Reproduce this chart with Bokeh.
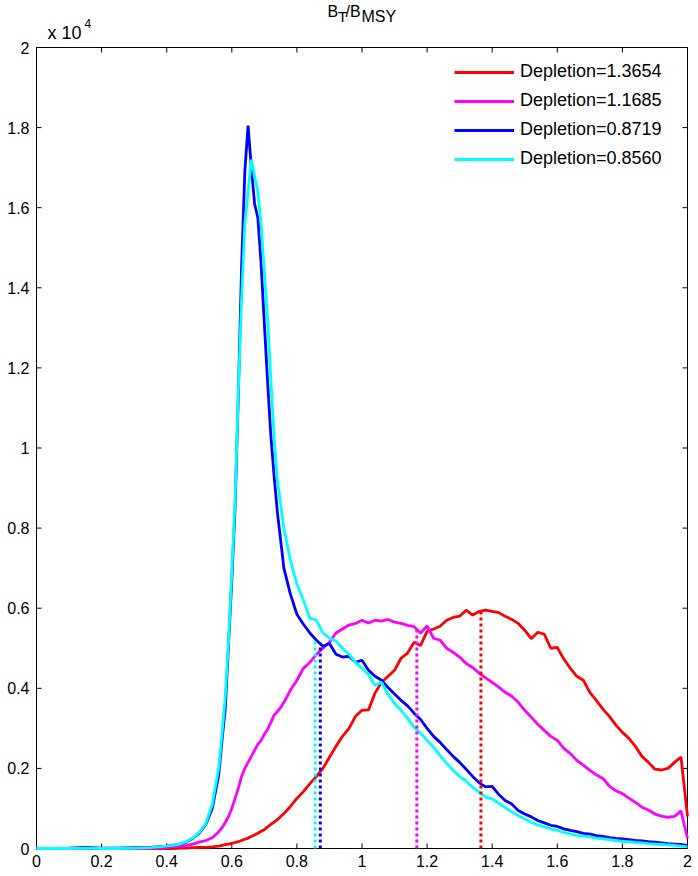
from bokeh.plotting import figure
from bokeh.models import Range1d, FixedTicker, Legend, LegendItem, ColumnDataSource
from bokeh.core.properties import value
from bokeh.embed import file_html
from bokeh.resources import INLINE
import math

# ---------------- data ----------------
x_grid = [0.00, 0.05, 0.10, 0.15, 0.20, 0.25, 0.30, 0.35, 0.40,
          0.42, 0.44, 0.46, 0.48, 0.50, 0.52, 0.54, 0.56,
          0.57, 0.58, 0.59, 0.60, 0.61, 0.62, 0.63, 0.64, 0.65, 0.66,
          0.67, 0.68, 0.69, 0.70, 0.71, 0.72, 0.73, 0.74, 0.75, 0.76,
          0.78, 0.80, 0.82, 0.84, 0.86, 0.88, 0.90, 0.92, 0.94, 0.96,
          0.98, 1.00, 1.02, 1.04, 1.06, 1.08, 1.10, 1.12, 1.14, 1.16,
          1.18, 1.20, 1.22, 1.24, 1.26, 1.28, 1.30, 1.32, 1.34, 1.36,
          1.38, 1.40, 1.42, 1.44, 1.46, 1.48, 1.50, 1.52, 1.54, 1.56,
          1.58, 1.60, 1.62, 1.64, 1.66, 1.68, 1.70, 1.72, 1.74, 1.76,
          1.78, 1.80, 1.82, 1.84, 1.86, 1.88, 1.90, 1.92, 1.94, 1.96,
          1.98, 2.00]

red_1_3654 = [0, 0, 0, 0, 0, 0, 0, 0, 0,
              0, 10, 10, 20, 30, 30, 40, 60,
              80, 100, 110, 130, 150, 170, 200, 230, 260, 300,
              340, 380, 430, 470, 540, 600, 660, 720, 800, 870,
              1050, 1250, 1420, 1620, 1800, 2000, 2280, 2550, 2800, 3000,
              3300, 3450, 3460, 3880, 4150, 4300, 4450, 4750, 4880, 5150,
              5070, 5420, 5480, 5550, 5700, 5770, 5800, 5950, 5830, 5920,
              5950, 5920, 5890, 5800, 5720, 5620, 5450, 5240, 5400, 5350,
              5000, 5020, 4730, 4500, 4300, 4200, 3900, 3700, 3480, 3300,
              3080, 2900, 2750, 2550, 2300, 2150, 1980, 1960, 2000, 2150,
              2280, 800]

magenta_1_1685 = [0, 0, 0, 0, 0, 0, 0, 10, 30,
                  40, 60, 80, 110, 160, 200, 270, 420,
                  520, 650, 800, 1000, 1250, 1500, 1800, 2000, 2150, 2300,
                  2450, 2600, 2700, 2850, 2980, 3150, 3330, 3420, 3520, 3650,
                  3950, 4200, 4500, 4650, 4850, 5000, 5150, 5380, 5480, 5580,
                  5620, 5700, 5630, 5700, 5680, 5720, 5650, 5620, 5570, 5540,
                  5380, 5560, 5250, 5200, 5000, 4900, 4780, 4620, 4520, 4380,
                  4260, 4150, 4030, 3900, 3800, 3650, 3450, 3280, 3100, 2950,
                  2800, 2700, 2500, 2370, 2200, 2080, 1950, 1840, 1750, 1560,
                  1440, 1370, 1260, 1150, 1030, 960, 860, 810, 780, 800,
                  940, 250]

blue_0_8719 = [0, 0, 10, 30, 10, 10, 20, 30, 60,
               80, 110, 160, 250, 380, 600, 1000, 1850,
               2700, 3500, 5100, 6700, 8500, 11300, 14500, 16900, 18050, 17000,
               16100, 15750, 14600, 13100, 11650, 10300, 9300, 8400, 7700, 7000,
               6350, 5850, 5600, 5380, 5200, 5050, 5120, 4850, 4780, 4800,
               4650, 4700, 4450, 4300, 4200, 4020, 3860, 3700, 3560, 3380,
               3220, 3000, 2800, 2650, 2470, 2300, 2150, 1980, 1800, 1640,
               1540, 1550, 1350, 1200, 1110, 950, 860, 790, 700, 640,
               580, 550, 490, 450, 420, 380, 360, 320, 300, 270,
               250, 240, 220, 200, 190, 170, 160, 140, 120, 110,
               100, 70]

cyan_0_8560 = [0, 0, 0, 10, 0, 0, 10, 20, 60,
               80, 110, 170, 260, 400, 620, 1100, 2030,
               2860, 3800, 5200, 6900, 8690, 11400, 13700, 15600, 16400, 17200,
               16800, 16400, 15600, 14400, 13200, 11700, 10250, 9200, 8600, 8000,
               7200, 6600, 6200, 5750, 5700, 5380, 5250, 5180, 5000, 4850,
               4650, 4500, 4350, 4070, 4150, 3850, 3620, 3450, 3250, 3030,
               2880, 2700, 2530, 2320, 2130, 1950, 1800, 1680, 1530, 1400,
               1280, 1240, 1130, 1020, 920, 820, 740, 650, 590, 540,
               490, 450, 400, 360, 330, 310, 290, 260, 240, 220,
               200, 180, 170, 150, 140, 120, 110, 100, 90, 80,
               60, 40]

depletion = [1.3654, 1.1685, 0.8719, 0.8560]
depletion_marker_top = [5935, 5520, 5050, 5200]
series_labels = ["Depletion=1.3654", "Depletion=1.1685", "Depletion=0.8719", "Depletion=0.8560"]
series_colors = ["#FF0000", "#FF00FF", "#0000FF", "#00FFFF"]

x_ticks = [0, 0.2, 0.4, 0.6, 0.8, 1.0, 1.2, 1.4, 1.6, 1.8, 2.0]
x_tick_labels = ["0", "0.2", "0.4", "0.6", "0.8", "1", "1.2", "1.4", "1.6", "1.8", "2"]
y_ticks = [0, 2000, 4000, 6000, 8000, 10000, 12000, 14000, 16000, 18000, 20000]
y_tick_labels = ["0", "0.2", "0.4", "0.6", "0.8", "1", "1.2", "1.4", "1.6", "1.8", "2"]

FONT = "Liberation Sans"
X0, X1, Y0, Y1 = 0, 2, 0, 20000

# ---------------- page geometry (pixels) ----------------
W, H = 698, 876
BOX_L, BOX_R, BOX_T, BOX_B = 36, 687, 47, 848     # axes box on the page
PAD = 3                                           # frame slightly larger than the box
FR_L, FR_R, FR_T, FR_B = BOX_L - PAD, BOX_R + PAD, 0, BOX_B + PAD
XPX = (X1 - X0) / (BOX_R - BOX_L)                 # data per pixel
YPX = (Y1 - Y0) / (BOX_B - BOX_T)

p = figure(width=W, height=H, output_backend="svg", toolbar_location=None,
           x_range=Range1d(X0 - (BOX_L - FR_L) * XPX, X1 + (FR_R - BOX_R) * XPX),
           y_range=Range1d(Y0 - (FR_B - BOX_B) * YPX, Y1 + (BOX_T - FR_T) * YPX),
           min_border_left=FR_L, min_border_right=W - FR_R,
           min_border_top=FR_T, min_border_bottom=H - FR_B,
           background_fill_color="white", border_fill_color="white")
p.title = None
p.xgrid.visible = False
p.ygrid.visible = False
p.outline_line_color = None

def style_axis(ax, ticks, labels, standoff):
    ax.ticker = FixedTicker(ticks=ticks)
    ax.major_label_overrides = {t: l for t, l in zip(ticks, labels)}
    ax.major_tick_in = 0
    ax.major_tick_out = 0
    ax.minor_tick_in = 0
    ax.minor_tick_out = 0
    ax.axis_line_color = None
    ax.major_tick_line_color = None
    ax.major_label_text_font = FONT
    ax.major_label_text_color = "black"
    ax.major_label_text_font_size = "16px"
    ax.major_label_standoff = standoff

style_axis(p.xaxis[0], x_ticks, x_tick_labels, 3)
style_axis(p.yaxis[0], y_ticks, y_tick_labels, 4)

# axes box
p.line([X0, X0, X1, X1, X0], [Y0, Y1, Y1, Y0, Y0], line_color="black", line_width=1)
# inward ticks on all four sides
n_x, n_y = len(x_ticks), len(y_ticks)
p.ray(x=x_ticks, y=[Y0] * n_x, length=5, length_units="screen", angle=math.pi / 2,
      line_color="black", line_width=1)
p.ray(x=x_ticks, y=[Y1] * n_x, length=5, length_units="screen", angle=-math.pi / 2,
      line_color="black", line_width=1)
p.ray(x=[X0] * n_y, y=y_ticks, length=5, length_units="screen", angle=0,
      line_color="black", line_width=1)
p.ray(x=[X1] * n_y, y=y_ticks, length=5, length_units="screen", angle=math.pi,
      line_color="black", line_width=1)

series = [red_1_3654, magenta_1_1685, blue_0_8719, cyan_0_8560]
items = []
for vals, col, lab in zip(series, series_colors, series_labels):
    src = ColumnDataSource(dict(x=x_grid, y=vals))
    r = p.line("x", "y", source=src, line_color=col, line_width=2.8)
    items.append(LegendItem(label=lab, renderers=[r]))

for d, top, col in zip(depletion, depletion_marker_top, series_colors):
    src = ColumnDataSource(dict(x=[d, d], y=[0, top]))
    p.line("x", "y", source=src, line_color=col, line_width=3, line_dash="3 3")

legend = Legend(items=items, location=(454 - FR_L, FR_B - 169), orientation="vertical",
                label_text_font=FONT, label_text_font_size="18px",
                label_text_color="black",
                glyph_width=60, glyph_height=20, label_height=20,
                label_standoff=6, spacing=8, padding=0, margin=0,
                border_line_alpha=0, background_fill_alpha=0)
p.add_layout(legend, "center")

# title B_T/B_MSY and the "x 10^4" multiplier (page pixel positions -> data)
def ptext(texts, pxs, pys, size):
    p.text(x=[X0 + (px - BOX_L) * XPX for px in pxs],
           y=[Y0 + (BOX_B - py) * YPX for py in pys],
           text=texts, text_font=value(FONT), text_font_size=value(size),
           text_color="black", text_baseline="middle", text_align="left")

ptext(["B", "/B"], [327, 345], [10.5, 10.5], "16px")
ptext(["T"], [337.5], [16], "15px")
ptext(["MSY"], [361], [15.6], "16px")
ptext(["x 10"], [47], [32.7], "18px")
ptext(["4"], [84], [22.8], "12px")

open("out.html", "w").write(file_html(p, INLINE))
